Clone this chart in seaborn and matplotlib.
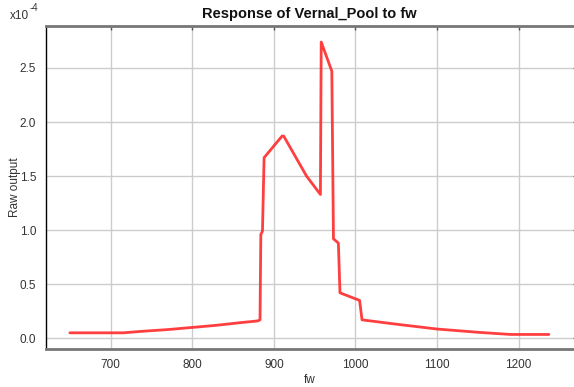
import matplotlib
matplotlib.use("Agg")
import matplotlib.pyplot as plt
import seaborn as sns
import numpy as np

# response curve (y in units of 1e-4)
fw = [650, 715, 740, 770, 800, 830, 860, 880, 883, 884, 886, 888, 910, 912,
      940, 947, 957, 958, 971, 973, 979, 981, 1005, 1008, 1050, 1100, 1150,
      1190, 1237]
raw_output = [0.05, 0.05, 0.065, 0.08, 0.10, 0.12, 0.145, 0.16, 0.17, 0.96,
              0.99, 1.67, 1.87, 1.87, 1.50, 1.43, 1.33, 2.74, 2.47, 0.92,
              0.88, 0.42, 0.35, 0.17, 0.13, 0.085, 0.055, 0.035, 0.035]
x_ticks = [700, 800, 900, 1000, 1100, 1200]
y_ticks = [0.0, 0.5, 1.0, 1.5, 2.0, 2.5]

sns.set_theme(style="white")
plt.rcParams["font.family"] = ["Liberation Sans", "DejaVu Sans"]

fig = plt.figure(figsize=(5.74, 3.87), dpi=100)
fig.patch.set_facecolor("white")
ax = fig.add_axes([0.080, 0.098, 0.918, 0.835])

sns.lineplot(x=fw, y=raw_output, color="#ff2a2a", linewidth=2.0, ax=ax,
             sort=False, alpha=0.9)

span_x = max(fw) - min(fw)
span_y = max(raw_output) - min(raw_output)
ax.set_xlim(min(fw) - 0.05 * span_x, max(fw) + 0.05 * span_x)
ax.set_ylim(min(raw_output) - 0.05 * span_y, max(raw_output) + 0.055 * span_y)
ax.set_xticks(x_ticks)
ax.set_yticks(y_ticks)
ax.set_yticklabels([f"{v:.1f}" for v in y_ticks])

ax.grid(True, color="#cccccc", linewidth=1.0)
ax.set_axisbelow(True)

for side in ["top", "bottom"]:
    ax.spines[side].set_color("#777777")
    ax.spines[side].set_linewidth(2.0)
ax.spines["left"].set_color("black")
ax.spines["left"].set_linewidth(1.0)
ax.spines["right"].set_visible(False)

ax.tick_params(axis="x", direction="in", length=3, width=1, color="#555555",
               labelsize=8.5, labelcolor="#333333", pad=7, top=True)
ax.tick_params(axis="y", direction="out", length=4, width=1, color="#333333",
               labelsize=8.5, labelcolor="#333333", pad=3)
ax.tick_params(axis="y", which="both", right=True)

ax.set_xlabel("fw", fontsize=8.5, color="#333333", labelpad=2)
ax.set_ylabel("Raw output", fontsize=8.5, color="#333333", labelpad=-1)
ax.set_title("Response of Vernal_Pool to fw", fontsize=10.5, fontweight="bold",
             color="#111111", pad=6)

fig.text(0.017, 0.950, "x10", fontsize=8.5, color="#333333")
fig.text(0.052, 0.972, "-4", fontsize=7, color="#333333")

plt.savefig("out.png", dpi=100)
